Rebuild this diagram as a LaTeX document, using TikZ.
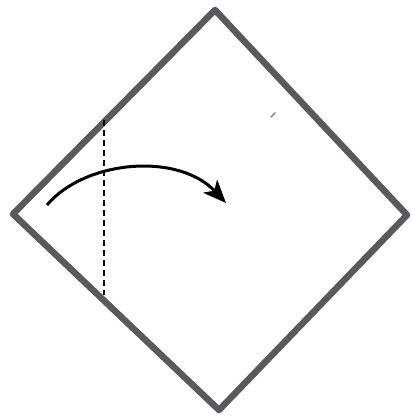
\documentclass[tikz,border=0pt]{standalone}
\usetikzlibrary{arrows.meta}
\definecolor{edgegray}{HTML}{5A5860}
\tikzset{
  paper/.style={draw=edgegray, line width=6.5pt, line join=round},
  foldline/.style={draw=black, line width=1.5pt, dash pattern=on 6pt off 4pt},
  foldarrow/.style={draw=black, line width=3pt, -{Stealth[length=23pt, width=19pt, inset=6pt]}},
  speck/.style={draw=edgegray!70, line width=1.5pt, line cap=round}
}
\begin{document}
\begin{tikzpicture}[x=1pt, y=-1pt]
  \useasboundingbox (0,0) rectangle (411,419);
  \coordinate (T) at (215,10);
  \coordinate (R) at (407,215);
  \coordinate (B) at (219,410);
  \coordinate (L) at (13,214);
  \draw[paper] (T) -- (R) -- (B) -- (L) -- cycle;
  \coordinate (d1) at (104,120);
  \coordinate (d2) at (104,295);
  \draw[foldline] (d1) -- (d2);
  \coordinate (a1) at (47,205);
  \coordinate (a2) at (226,203);
  \draw[foldarrow] (a1) .. controls (85,160) and (178,152) .. (a2);
  \coordinate (s1) at (271,117);
  \coordinate (s2) at (275,113);
  \draw[speck] (s1) -- (s2);
\end{tikzpicture}
\end{document}
